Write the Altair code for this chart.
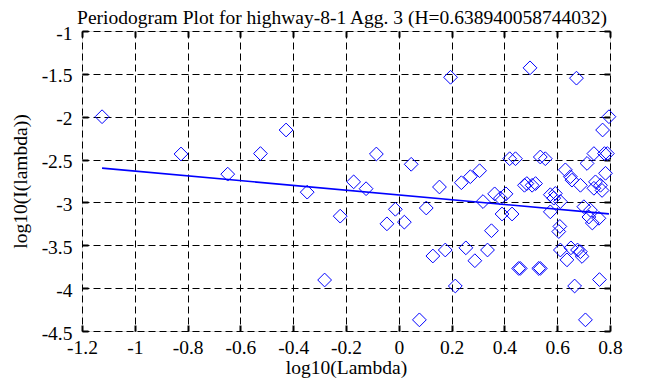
import altair as alt
import pandas as pd

# log10(Lambda) values of the periodogram points
lam = [-1.124, -0.825, -0.648, -0.524, -0.427, -0.347, -0.281, -0.222, -0.171, -0.124,
       -0.085, -0.045, -0.013, 0.021, 0.047, 0.078, 0.104, 0.129, 0.154, 0.176,
       0.196, 0.214, 0.237, 0.254, 0.271, 0.288, 0.306, 0.319, 0.336, 0.351,
       0.363, 0.385, 0.391, 0.406, 0.420, 0.429, 0.442, 0.454, 0.460, 0.476,
       0.485, 0.497, 0.505, 0.518, 0.530, 0.536, 0.536, 0.555, 0.574, 0.574,
       0.587, 0.593, 0.606, 0.610, 0.612, 0.612, 0.631, 0.637, 0.650, 0.652,
       0.656, 0.666, 0.673, 0.677, 0.688, 0.688, 0.694, 0.701, 0.707, 0.713,
       0.720, 0.726, 0.733, 0.739, 0.739, 0.745, 0.758, 0.760, 0.764, 0.772,
       0.779, 0.783, 0.790, 0.796, 0.770]
# log10(I(lambda)) values
ival = [-2.00, -2.435, -2.67, -2.43, -2.155, -2.88, -3.905, -3.16, -2.76, -2.84,
        -2.435, -3.25, -3.08, -3.23, -2.555, -4.37, -3.065, -3.625, -2.82, -3.555,
        -1.54, -3.975, -2.77, -3.53, -2.70, -3.68, -2.63, -2.99, -3.555, -3.33,
        -2.90, -2.95, -3.135, -2.90, -2.49, -3.135, -2.49, -3.77, -3.77, -2.80,
        -2.78, -1.43, -2.80, -2.78, -3.77, -3.77, -2.47, -2.49, -2.91, -3.11,
        -2.95, -2.895, -3.34, -3.28, -2.99, -3.555, -2.62, -3.67, -2.70, -3.53,
        -2.74, -3.975, -1.55, -3.555, -2.80, -3.575, -3.63, -3.05, -4.37, -2.545,
        -3.17, -3.09, -3.24, -2.43, -2.835, -2.76, -3.185, -3.90, -2.80, -2.155,
        -2.43, -2.66, -2.43, -2.00, -2.86]

# fitted regression line end points
fit_x = [-1.124, 0.796]
fit_y = [-2.600, -3.134]

x_ticks = [-1.2, -1, -0.8, -0.6, -0.4, -0.2, 0, 0.2, 0.4, 0.6, 0.8]
y_ticks = [-4.5, -4, -3.5, -3, -2.5, -2, -1.5, -1]

pts_df = pd.DataFrame({"lam": lam, "ival": ival})
fit_df = pd.DataFrame({"lam": fit_x, "ival": fit_y})

FONT = "Liberation Serif"
FS = 19.5
xs = alt.Scale(domain=[-1.2, 0.8], nice=False, zero=False)
ys = alt.Scale(domain=[-4.5, -1], nice=False, zero=False)

lab = "'' + datum.value"

points = alt.Chart(pts_df).mark_point(
    shape="diamond", size=190, filled=False, color="#0000ff", strokeWidth=1, opacity=1
).encode(
    x=alt.X("lam:Q", scale=xs, axis=alt.Axis(
        orient="bottom", values=x_ticks, labelExpr=lab, title="log10(Lambda)",
        grid=True, gridDash=[7, 4], gridColor="black", gridWidth=1, gridOpacity=1,
        ticks=False, domain=False, labelPadding=7, titlePadding=2, labelFlush=False,
        labelFont=FONT, labelFontSize=FS, labelColor="black",
        titleFont=FONT, titleFontSize=FS, titleFontWeight="normal", titleColor="black")),
    y=alt.Y("ival:Q", scale=ys, axis=alt.Axis(
        orient="left", values=y_ticks, labelExpr=lab, title="log10(I(lambda))",
        grid=True, gridDash=[7, 4], gridColor="black", gridWidth=1, gridOpacity=1,
        ticks=False, domain=False, labelPadding=10, titlePadding=11, labelFlush=False,
        labelOffset=2,
        labelFont=FONT, labelFontSize=FS, labelColor="black",
        titleFont=FONT, titleFontSize=FS, titleFontWeight="normal", titleColor="black")),
)

tick_axis = dict(labels=False, domain=False, grid=False, ticks=True, tickSize=6,
                 tickColor="black", tickWidth=2, title=None, offset=-6)

fit = alt.Chart(fit_df).mark_line(color="#0000ff", strokeWidth=1.6).encode(
    x=alt.X("lam:Q", scale=xs, axis=alt.Axis(orient="top", values=x_ticks, **tick_axis)),
    y=alt.Y("ival:Q", scale=ys, axis=alt.Axis(orient="right", values=y_ticks, **tick_axis)),
)

ghost = alt.Chart(fit_df).mark_line(strokeOpacity=0).encode(
    x=alt.X("lam:Q", scale=xs, axis=alt.Axis(orient="bottom", values=x_ticks, **tick_axis)),
    y=alt.Y("ival:Q", scale=ys, axis=alt.Axis(orient="left", values=y_ticks, **tick_axis)),
)

chart = alt.layer(points, fit, ghost).resolve_axis(
    x="independent", y="independent"
).properties(
    width=528, height=300,
    title=alt.TitleParams(
        "Periodogram Plot for highway-8-1 Agg. 3 (H=0.638940058744032)",
        font=FONT, fontSize=FS, fontWeight="normal", color="black",
        anchor="middle", offset=1, dx=-4, dy=6),
    padding={"left": 74, "top": 23, "right": 40, "bottom": 56},
    autosize=alt.AutoSizeParams(type="none"),
).configure_view(
    stroke="black", strokeWidth=2
).configure(background="white")

chart.save("out.html", embed_options={"renderer": "svg", "actions": False})
